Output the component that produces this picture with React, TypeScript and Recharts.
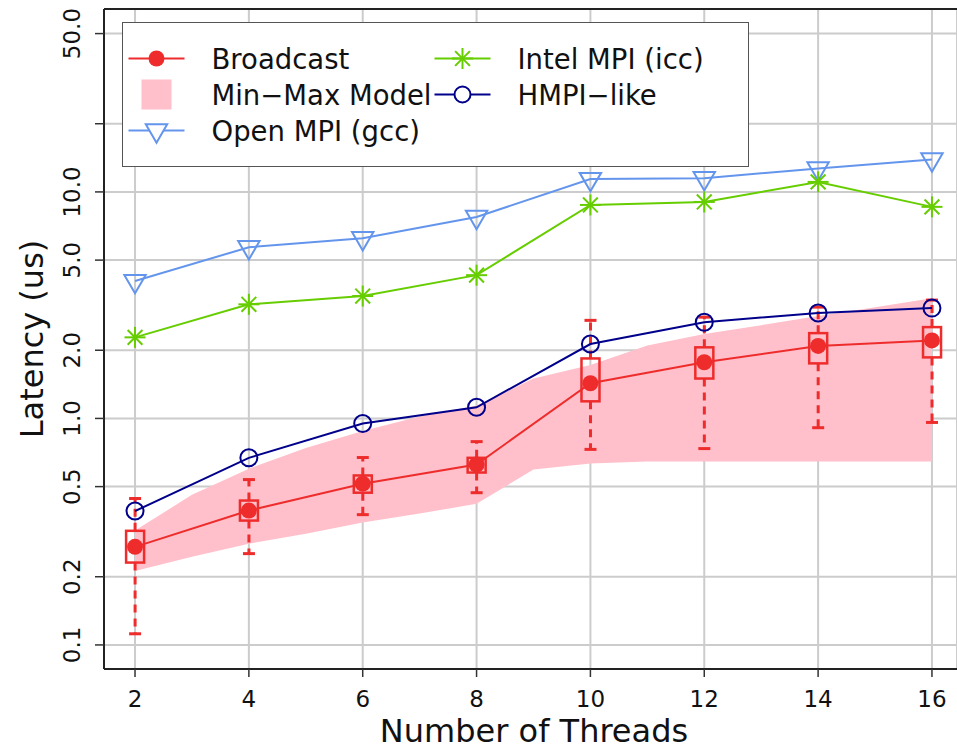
import {
  ComposedChart,
  Line,
  Area,
  Bar,
  XAxis,
  YAxis,
  CartesianGrid,
  Legend,
  ReferenceLine,
} from 'recharts';

// --- data (latency in microseconds) ---
const threads = [2, 4, 6, 8, 10, 12, 14, 16];

// Broadcast box plots
const broadcastMedian = [0.271, 0.392, 0.515, 0.626, 1.43, 1.77, 2.09, 2.21];
const broadcastQ1 = [0.231, 0.354, 0.47, 0.577, 1.19, 1.5, 1.75, 1.86];
const broadcastQ3 = [0.319, 0.434, 0.56, 0.67, 1.84, 2.06, 2.38, 2.53];
const broadcastMin = [0.112, 0.253, 0.376, 0.47, 0.73, 0.736, 0.91, 0.96];
const broadcastMax = [0.443, 0.537, 0.672, 0.79, 2.71, 2.8, 3.1, 3.33];

const intelMpi = [2.28, 3.19, 3.47, 4.29, 8.76, 9.03, 11.07, 8.59];
const hmpiLike = [0.39, 0.67, 0.95, 1.12, 2.13, 2.66, 2.92, 3.07];
const openMpi = [4.04, 5.7, 6.25, 7.75, 11.4, 11.5, 12.7, 13.9];

// Min-Max model band
const bandThreads = [2, 3, 4, 5, 6, 7, 8, 9, 10, 11, 12, 13, 14, 15, 16];
const bandLow = [0.212, 0.245, 0.28, 0.31, 0.347, 0.38, 0.42, 0.595, 0.632, 0.645, 0.645, 0.645, 0.645, 0.645, 0.645];
const bandHigh = [0.32, 0.46, 0.6, 0.74, 0.88, 1.02, 1.14, 1.5, 1.72, 2.1, 2.36, 2.58, 2.83, 3.1, 3.39];

const xTicks = [2, 4, 6, 8, 10, 12, 14, 16];
const yTicks = [0.1, 0.2, 0.5, 1, 2, 5, 10, 20, 50];
const yTickLabels = ['0.1', '0.2', '0.5', '1.0', '2.0', '5.0', '10.0', '', '50.0'];

const X_DOMAIN: [number, number] = [1.455, 16.44];
const Y_DOMAIN: [number, number] = [0.0783, 64.2];

const RED = '#EE2C2C';
const PINK = '#FFC0CB';
const GREEN = '#66CD00';
const NAVY = '#00008B';
const SKY = '#6495ED';
const GRID = '#cccccc';
const FONT = '"DejaVu Sans", "Liberation Sans", sans-serif';

const data = threads.map((t, i) => ({
  threads: t,
  median: broadcastMedian[i],
  box: [broadcastQ1[i], broadcastQ3[i]],
  lowWhisker: [broadcastMin[i], broadcastQ1[i]],
  highWhisker: [broadcastQ3[i], broadcastMax[i]],
  intel: intelMpi[i],
  hmpi: hmpiLike[i],
  openmpi: openMpi[i],
}));

const bandData = bandThreads.map((t, i) => ({
  threads: t,
  band: [bandLow[i], bandHigh[i]],
}));

// --- shapes ---
const BoxShape = (props: any) => {
  const { x, y, width, height } = props;
  if (x == null || y == null) return null;
  return (
    <rect x={x} y={y} width={width} height={height} fill="none" stroke={RED} strokeWidth={2.5} />
  );
};

const LowWhisker = (props: any) => {
  const { x, y, width, height } = props;
  if (x == null || y == null) return null;
  const cx = x + width / 2;
  return (
    <g>
      <line x1={cx} y1={y} x2={cx} y2={y + height} stroke={RED} strokeWidth={3} strokeDasharray="8 6" />
      <line x1={cx - 6} y1={y + height} x2={cx + 6} y2={y + height} stroke={RED} strokeWidth={3} />
    </g>
  );
};

const HighWhisker = (props: any) => {
  const { x, y, width, height } = props;
  if (x == null || y == null) return null;
  const cx = x + width / 2;
  return (
    <g>
      <line x1={cx} y1={y + height} x2={cx} y2={y} stroke={RED} strokeWidth={3} strokeDasharray="8 6" />
      <line x1={cx - 6} y1={y} x2={cx + 6} y2={y} stroke={RED} strokeWidth={3} />
    </g>
  );
};

const triPoints = (cx: number, cy: number) =>
  `${cx - 10.7},${cy - 6.15} ${cx + 10.7},${cy - 6.15} ${cx},${cy + 12.3}`;

const StarMark = ({ cx, cy }: { cx: number; cy: number }) => {
  const l = 10.5;
  const d = 7.4;
  return (
    <g stroke={GREEN} strokeWidth={2}>
      <line x1={cx - l} y1={cy} x2={cx + l} y2={cy} />
      <line x1={cx} y1={cy - l} x2={cx} y2={cy + l} />
      <line x1={cx - d} y1={cy - d} x2={cx + d} y2={cy + d} />
      <line x1={cx - d} y1={cy + d} x2={cx + d} y2={cy - d} />
    </g>
  );
};

const redDot = (p: any) =>
  p.cx == null ? null : <circle key={`rd-${p.index}`} cx={p.cx} cy={p.cy} r={8} fill={RED} />;

const navyDot = (p: any) =>
  p.cx == null ? null : (
    <circle key={`nd-${p.index}`} cx={p.cx} cy={p.cy} r={8.5} fill="none" stroke={NAVY} strokeWidth={2} />
  );

const triDot = (p: any) =>
  p.cx == null ? null : (
    <polygon key={`td-${p.index}`} points={triPoints(p.cx, p.cy)} fill="none" stroke={SKY} strokeWidth={2} />
  );

const starDot = (p: any) =>
  p.cx == null ? null : (
    <g key={`sd-${p.index}`}>
      <StarMark cx={p.cx} cy={p.cy} />
    </g>
  );

// --- ticks and titles ---
const YTick = (props: any) => {
  const { x, y, payload } = props;
  const i = yTicks.indexOf(payload.value);
  const label = i >= 0 ? yTickLabels[i] : '';
  if (!label) return null;
  const tx = x - 15;
  return (
    <text
      x={tx}
      y={y}
      transform={`rotate(-90, ${tx}, ${y})`}
      textAnchor="middle"
      fontSize={23}
      fill="#111"
      fontFamily={FONT}
    >
      {label}
    </text>
  );
};

const XTick = (props: any) => {
  const { x, y, payload } = props;
  return (
    <text x={x} y={y + 30} textAnchor="middle" fontSize={23} fill="#111" fontFamily={FONT}>
      {payload.value}
    </text>
  );
};

const XTitle = (props: any) => {
  const { viewBox } = props;
  const x = viewBox.x + viewBox.width / 2 + 3.5;
  return (
    <text x={x} y={viewBox.y + 73} textAnchor="middle" fontSize={32} fill="#111" fontFamily={FONT}>
      Number of Threads
    </text>
  );
};

const YTitle = (props: any) => {
  const { viewBox } = props;
  const x = viewBox.x + 43;
  const y = viewBox.y + viewBox.height / 2;
  return (
    <text
      x={x}
      y={y}
      transform={`rotate(-90, ${x}, ${y})`}
      textAnchor="middle"
      fontSize={32}
      fill="#111"
      fontFamily={FONT}
    >
      Latency (us)
    </text>
  );
};

// --- legend ---
const legendItems = [
  { label: 'Broadcast', kind: 'dot', col: 0, row: 0 },
  { label: 'Min−Max Model', kind: 'square', col: 0, row: 1 },
  { label: 'Open MPI (gcc)', kind: 'tri', col: 0, row: 2 },
  { label: 'Intel MPI (icc)', kind: 'star', col: 1, row: 0 },
  { label: 'HMPI−like', kind: 'circle', col: 1, row: 1 },
];

const LegendBox = () => {
  const colX = [35, 341];
  const rowY = [37, 73, 109];
  return (
    <div
      style={{
        width: 627,
        height: 145,
        boxSizing: 'border-box',
        border: '1.5px solid #555',
        background: '#fff',
      }}
    >
      <svg width={624} height={142} style={{ display: 'block' }}>
        {legendItems.map((it) => {
          const cx = colX[it.col] - 1.5;
          const cy = rowY[it.row] - 1.5;
          let sym = null;
          if (it.kind === 'dot') {
            sym = (
              <g>
                <line x1={cx - 28} y1={cy} x2={cx + 28} y2={cy} stroke={RED} strokeWidth={2} />
                <circle cx={cx} cy={cy} r={8} fill={RED} />
              </g>
            );
          } else if (it.kind === 'square') {
            sym = <rect x={cx - 15} y={cy - 15} width={30} height={30} fill={PINK} />;
          } else if (it.kind === 'tri') {
            sym = (
              <g>
                <line x1={cx - 28} y1={cy} x2={cx + 28} y2={cy} stroke={SKY} strokeWidth={2} />
                <polygon points={triPoints(cx, cy)} fill="#fff" stroke={SKY} strokeWidth={2} />
              </g>
            );
          } else if (it.kind === 'star') {
            sym = (
              <g>
                <line x1={cx - 28} y1={cy} x2={cx + 28} y2={cy} stroke={GREEN} strokeWidth={2} />
                <StarMark cx={cx} cy={cy} />
              </g>
            );
          } else {
            sym = (
              <g>
                <line x1={cx - 28} y1={cy} x2={cx + 28} y2={cy} stroke={NAVY} strokeWidth={2} />
                <circle cx={cx} cy={cy} r={8} fill="#fff" stroke={NAVY} strokeWidth={2} />
              </g>
            );
          }
          return (
            <g key={it.label}>
              {sym}
              <text x={cx + 55} y={cy + 10} fontSize={27.5} fill="#111" fontFamily={FONT}>
                {it.label}
              </text>
            </g>
          );
        })}
      </svg>
    </div>
  );
};

export default function App() {
  return (
    <div
      style={{
        position: 'absolute',
        left: 0,
        top: 0,
        width: 957,
        height: 750,
        background: '#fff',
        fontFamily: FONT,
      }}
    >
      <ComposedChart width={957} height={750} data={data} margin={{ top: 9, right: 0, bottom: 0, left: 0 }}>
        <CartesianGrid stroke={GRID} strokeWidth={2} />
        <XAxis
          dataKey="threads"
          type="number"
          domain={X_DOMAIN}
          ticks={xTicks}
          interval={0}
          allowDataOverflow
          height={81}
          tickSize={8}
          tickMargin={0}
          tick={XTick}
          axisLine={{ stroke: '#222', strokeWidth: 2 }}
          tickLine={{ stroke: '#333', strokeWidth: 1.5 }}
          label={{ value: 'Number of Threads', content: XTitle }}
        />
        <XAxis xAxisId="box" dataKey="threads" type="number" domain={X_DOMAIN} allowDataOverflow hide />
        <XAxis xAxisId="wlo" dataKey="threads" type="number" domain={X_DOMAIN} allowDataOverflow hide />
        <XAxis xAxisId="whi" dataKey="threads" type="number" domain={X_DOMAIN} allowDataOverflow hide />
        <YAxis
          type="number"
          scale="log"
          domain={Y_DOMAIN}
          allowDataOverflow
          ticks={yTicks}
          interval={0}
          width={104}
          tickSize={9}
          tickMargin={0}
          tick={YTick}
          axisLine={{ stroke: '#222', strokeWidth: 2 }}
          tickLine={{ stroke: '#333', strokeWidth: 1.5 }}
          label={{ value: 'Latency (us)', content: YTitle }}
        />
        <ReferenceLine y={Y_DOMAIN[1]} stroke="#222" strokeWidth={2} />

        <Area
          data={bandData}
          dataKey="band"
          type="linear"
          fill={PINK}
          fillOpacity={1}
          stroke="none"
          dot={false}
          activeDot={false}
          isAnimationActive={false}
        />

        <Bar xAxisId="wlo" dataKey="lowWhisker" barSize={18} shape={LowWhisker} isAnimationActive={false} />
        <Bar xAxisId="whi" dataKey="highWhisker" barSize={18} shape={HighWhisker} isAnimationActive={false} />
        <Bar xAxisId="box" dataKey="box" barSize={18} shape={BoxShape} isAnimationActive={false} />

        <Line
          dataKey="median"
          name="Broadcast"
          type="linear"
          stroke={RED}
          strokeWidth={2}
          dot={redDot}
          activeDot={false}
          isAnimationActive={false}
        />
        <Line
          dataKey="openmpi"
          name="Open MPI (gcc)"
          type="linear"
          stroke={SKY}
          strokeWidth={2}
          dot={triDot}
          activeDot={false}
          isAnimationActive={false}
        />
        <Line
          dataKey="intel"
          name="Intel MPI (icc)"
          type="linear"
          stroke={GREEN}
          strokeWidth={2}
          dot={starDot}
          activeDot={false}
          isAnimationActive={false}
        />
        <Line
          dataKey="hmpi"
          name="HMPI-like"
          type="linear"
          stroke={NAVY}
          strokeWidth={2}
          dot={navyDot}
          activeDot={false}
          isAnimationActive={false}
        />

        <Legend
          layout="vertical"
          align="center"
          verticalAlign="middle"
          content={LegendBox}
          wrapperStyle={{ left: 122, top: 22, width: 627, height: 145, margin: 0, padding: 0 }}
        />
      </ComposedChart>
    </div>
  );
}
